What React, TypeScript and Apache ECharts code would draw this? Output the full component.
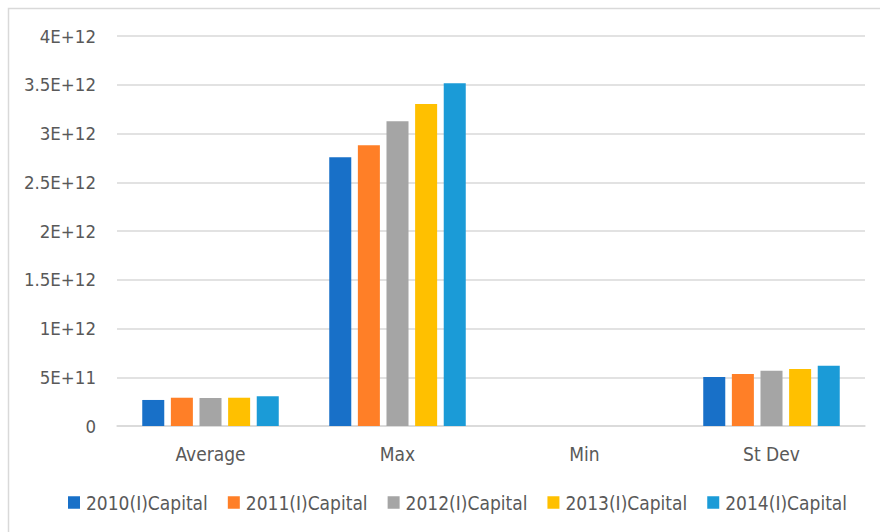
import React, { useEffect, useRef } from "react";
import * as echarts from "echarts";

const categories = ["Average", "Max", "Min", "St Dev"];
const seriesNames = [
  "2010(I)Capital",
  "2011(I)Capital",
  "2012(I)Capital",
  "2013(I)Capital",
  "2014(I)Capital",
];
const values2010 = [0.267e12, 2.756e12, 0, 0.503e12];
const values2011 = [0.29e12, 2.879e12, 0, 0.533e12];
const values2012 = [0.287e12, 3.125e12, 0, 0.567e12];
const values2013 = [0.29e12, 3.303e12, 0, 0.585e12];
const values2014 = [0.305e12, 3.515e12, 0, 0.619e12];
const seriesValues = [values2010, values2011, values2012, values2013, values2014];
const colors = ["#1870C8", "#FF7F27", "#A5A5A5", "#FFC000", "#1B9BD7"];

const FONT =
  '"Liberation Sans Narrow", "DejaVu Sans Condensed", "Liberation Sans", sans-serif';

function fmt(v: number): string {
  if (v === 0) return "0";
  const exp = Math.floor(Math.log10(v) + 1e-9);
  const m = v / Math.pow(10, exp);
  return `${+m.toFixed(2)}E+${exp}`;
}

export default function App() {
  const ref = useRef<HTMLDivElement>(null);
  useEffect(() => {
    if (!ref.current) return;
    const chart = echarts.init(ref.current, null, { renderer: "svg" });
    chart.setOption({
      animation: false,
      backgroundColor: "#ffffff",
      textStyle: { fontFamily: FONT },
      graphic: [
        {
          type: "rect",
          shape: { x: 8.5, y: 8.5, width: 900, height: 600 },
          style: { fill: "none", stroke: "#D9D9D9", lineWidth: 1.5 },
          silent: true,
        },
      ],
      grid: { left: 117, right: 15, top: 36, bottom: 106, containLabel: false },
      legend: {
        data: seriesNames,
        top: 487,
        left: 63,
        itemWidth: 12,
        itemHeight: 12.5,
        itemGap: 20,
        icon: "rect",
        textStyle: {
          color: "#595959",
          fontSize: 19,
          lineHeight: 21,
          fontFamily: FONT,
          padding: [0, 0, 0, 1],
        },
      },
      xAxis: {
        type: "category",
        data: categories,
        axisLine: { lineStyle: { color: "#D9D9D9", width: 1.5 } },
        axisTick: { show: false },
        axisLabel: { color: "#595959", fontSize: 19, margin: 18, fontFamily: FONT },
      },
      yAxis: {
        type: "value",
        min: 0,
        max: 4e12,
        interval: 0.5e12,
        axisLine: { show: false },
        axisTick: { show: false },
        splitLine: { lineStyle: { color: "#D9D9D9", width: 1.5 } },
        axisLabel: {
          color: "#595959",
          fontSize: 18.5,
          margin: 21,
          fontFamily: FONT,
          formatter: (v: number) => fmt(v),
        },
      },
      series: seriesNames.map((name, i) => ({
        name,
        type: "bar",
        data: seriesValues[i],
        barGap: "30%",
        barCategoryGap: "27%",
        itemStyle: { color: colors[i] },
      })),
    });
    return () => chart.dispose();
  }, []);
  return <div ref={ref} style={{ width: 880, height: 532, position: "absolute", left: 0, top: 0 }} />;
}
